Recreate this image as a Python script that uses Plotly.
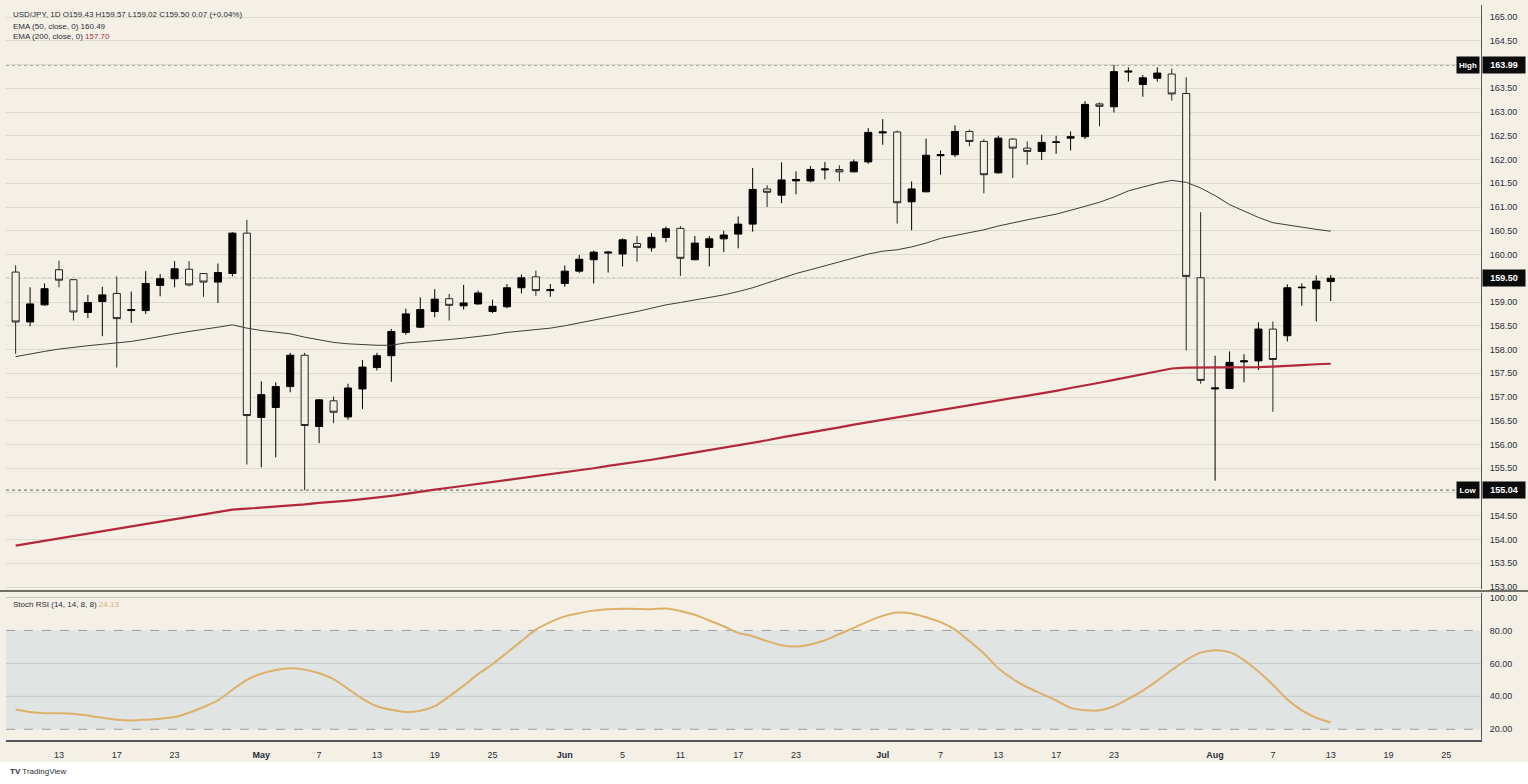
import numpy as np
import pandas as pd
import plotly.graph_objects as go
from plotly.subplots import make_subplots

# daily bars, weekends removed (Apr 8 -> Aug 13)
dates = pd.bdate_range("2026-04-08", "2026-08-13")

opens = [159.63, 158.58, 158.94, 159.68, 159.47, 158.78, 159.01, 159.18, 158.82, 158.82,
         159.35, 159.49, 159.69, 159.60, 159.42, 159.60, 160.45, 156.57, 156.78, 157.22,
         157.88, 156.38, 156.92, 156.58, 157.17, 157.62, 157.87, 158.36, 158.47, 158.80,
         159.07, 158.92, 158.96, 158.80, 158.90, 159.30, 159.53, 159.24, 159.39, 159.65,
         159.89, 160.03, 160.01, 160.23, 160.14, 160.36, 160.55, 159.89, 160.15, 160.33,
         160.43, 160.64, 161.38, 161.25, 161.55, 161.55, 161.78, 161.79, 161.74, 161.95,
         162.56, 162.58, 161.11, 161.32, 162.08, 162.10, 162.59, 162.38, 161.72, 162.43,
         162.24, 162.17, 162.36, 162.45, 162.48, 163.17, 163.11, 163.84, 163.58, 163.71,
         163.80, 163.39, 159.51, 157.17, 157.18, 157.74, 157.76, 158.43, 158.29, 159.30,
         159.28, 159.43]
highs = [159.77, 159.31, 159.39, 159.87, 159.48, 159.15, 159.32, 159.54, 159.22, 159.65,
         159.59, 159.86, 159.86, 159.61, 159.81, 160.47, 160.73, 157.33, 157.31, 157.93,
         157.93, 156.96, 157.01, 157.28, 157.78, 157.93, 158.43, 158.86, 159.10, 159.27,
         159.17, 159.36, 159.24, 159.05, 159.38, 159.58, 159.66, 159.38, 159.77, 159.99,
         160.08, 160.07, 160.34, 160.39, 160.45, 160.59, 160.60, 160.39, 160.39, 160.50,
         160.80, 161.82, 161.46, 161.94, 161.75, 161.86, 161.95, 161.88, 162.00, 162.66,
         162.85, 162.61, 161.54, 162.44, 162.19, 162.72, 162.63, 162.43, 162.50, 162.45,
         162.38, 162.52, 162.50, 162.59, 163.23, 163.20, 163.99, 163.94, 163.78, 163.94,
         163.91, 163.73, 160.89, 157.87, 157.96, 157.90, 158.57, 158.59, 159.37, 159.39,
         159.56, 159.57]
lows = [157.91, 158.49, 158.92, 159.31, 158.61, 158.66, 158.28, 157.62, 158.56, 158.75,
        159.12, 159.31, 159.33, 159.11, 158.98, 159.54, 155.58, 155.52, 155.73, 157.10,
        155.04, 156.03, 156.45, 156.52, 156.75, 157.56, 157.32, 158.31, 158.45, 158.68,
        158.61, 158.84, 158.94, 158.77, 158.87, 159.18, 159.13, 159.11, 159.32, 159.61,
        159.39, 159.62, 159.75, 159.85, 160.06, 160.26, 159.55, 159.88, 159.75, 160.05,
        160.13, 160.48, 161.00, 161.08, 161.27, 161.52, 161.58, 161.54, 161.73, 161.91,
        162.31, 160.65, 160.51, 161.31, 161.68, 162.05, 162.28, 161.29, 161.70, 161.61,
        161.89, 161.99, 162.12, 162.19, 162.43, 162.70, 162.99, 163.64, 163.32, 163.64,
        163.24, 157.98, 157.28, 155.24, 157.17, 157.31, 157.57, 156.69, 158.17, 158.92,
        158.59, 159.02]
closes = [158.58, 158.96, 159.28, 159.46, 158.79, 158.99, 159.15, 158.65, 158.84, 159.39,
          159.49, 159.70, 159.36, 159.42, 159.62, 160.45, 156.61, 157.05, 157.22, 157.88,
          156.40, 156.94, 156.68, 157.19, 157.63, 157.87, 158.38, 158.75, 158.84, 159.06,
          158.93, 158.98, 159.19, 158.91, 159.30, 159.51, 159.24, 159.26, 159.65, 159.90,
          160.05, 160.05, 160.31, 160.15, 160.36, 160.54, 159.92, 160.24, 160.33, 160.41,
          160.64, 161.37, 161.31, 161.57, 161.58, 161.79, 161.80, 161.74, 161.95, 162.57,
          162.58, 161.09, 161.38, 162.09, 162.10, 162.59, 162.38, 161.68, 162.45, 162.24,
          162.17, 162.36, 162.37, 162.48, 163.16, 163.12, 163.85, 163.86, 163.72, 163.82,
          163.38, 159.54, 157.35, 157.19, 157.73, 157.76, 158.43, 157.79, 159.30, 159.31,
          159.44, 159.50]

ema50 = [157.85, 157.91, 157.96, 158.01, 158.05, 158.08, 158.11, 158.14, 158.17, 158.22,
         158.28, 158.33, 158.38, 158.42, 158.47, 158.52, 158.45, 158.40, 158.36, 158.33,
         158.26, 158.20, 158.15, 158.12, 158.10, 158.09, 158.09, 158.14, 158.16, 158.18,
         158.21, 158.24, 158.27, 158.31, 158.36, 158.39, 158.42, 158.45, 158.50, 158.56,
         158.61, 158.67, 158.73, 158.80, 158.87, 158.94, 158.99, 159.04, 159.09, 159.15,
         159.22, 159.30, 159.40, 159.50, 159.60, 159.68, 159.76, 159.84, 159.93, 160.01,
         160.07, 160.10, 160.16, 160.24, 160.34, 160.40, 160.46, 160.52, 160.60, 160.67,
         160.73, 160.79, 160.85, 160.93, 161.01, 161.10, 161.21, 161.34, 161.42, 161.50,
         161.56, 161.52, 161.40, 161.24, 161.05, 160.92, 160.78, 160.67, 160.62, 160.57,
         160.53, 160.49]
ema200 = [153.87, 153.92, 153.97, 154.02, 154.08, 154.13, 154.18, 154.23, 154.28, 154.33,
          154.38, 154.43, 154.48, 154.53, 154.58, 154.63, 154.65, 154.67, 154.69, 154.72,
          154.74, 154.77, 154.79, 154.82, 154.85, 154.88, 154.92, 154.96, 155.01, 155.05,
          155.09, 155.13, 155.17, 155.21, 155.25, 155.29, 155.34, 155.38, 155.42, 155.46,
          155.50, 155.55, 155.59, 155.64, 155.68, 155.73, 155.78, 155.83, 155.88, 155.93,
          155.98, 156.04, 156.09, 156.15, 156.20, 156.25, 156.31, 156.36, 156.42, 156.47,
          156.53, 156.57, 156.62, 156.67, 156.72, 156.77, 156.82, 156.87, 156.92, 156.97,
          157.03, 157.08, 157.13, 157.19, 157.24, 157.30, 157.36, 157.42, 157.48, 157.55,
          157.60, 157.62, 157.62, 157.62, 157.62, 157.62, 157.63, 157.64, 157.65, 157.67,
          157.69, 157.70]
stoch_rsi = [32.0, 30.5, 29.8, 29.8, 29.5, 28.3, 27.0, 25.8, 25.4, 25.8,
             26.4, 27.4, 30.0, 33.5, 37.5, 44.0, 50.0, 53.8, 56.0, 57.0,
             56.2, 54.0, 50.5, 44.5, 38.5, 34.0, 31.8, 30.5, 31.2, 34.0,
             40.0, 46.5, 53.5, 59.5, 66.5, 73.5, 80.5, 85.0, 88.5, 90.5,
             92.0, 92.8, 93.2, 93.0, 92.9, 93.3, 91.8, 89.5, 86.0, 82.5,
             78.5, 76.5, 73.5, 71.0, 70.2, 71.5, 74.0, 77.8, 81.5, 85.5,
             88.8, 90.8, 90.3, 88.0, 85.0, 80.5, 73.5, 66.0, 57.0, 50.5,
             45.5, 41.5, 37.5, 33.0, 31.6, 31.5, 34.0, 38.5, 43.5, 49.5,
             56.0, 62.0, 66.5, 68.0, 66.8, 62.0, 55.0, 47.0, 38.0, 31.5,
             27.0, 24.13]

tick_dates = ["2026-04-13", "2026-04-17", "2026-04-23", "2026-05-01", "2026-05-07",
              "2026-05-13", "2026-05-19", "2026-05-25", "2026-06-01", "2026-06-05",
              "2026-06-11", "2026-06-17", "2026-06-23", "2026-07-01", "2026-07-07",
              "2026-07-13", "2026-07-17", "2026-07-23", "2026-08-03", "2026-08-07",
              "2026-08-13", "2026-08-19", "2026-08-25"]
tick_labels = ["13", "17", "23", "<b>May</b>", "7", "13", "19", "25", "<b>Jun</b>", "5",
               "11", "17", "23", "<b>Jul</b>", "7", "13", "17", "23", "<b>Aug</b>", "7",
               "13", "19", "25"]

price_ticks = [153.0 + 0.5 * i for i in range(25)]
stoch_ticks = [20, 40, 60, 80, 100]

BG = "#F4F0E6"
GRID = "#DDD9CF"
TEXT = "#2A2E39"
AXIS = "#55575F"
RED = "#B2283A"
TAN = "#DDB06A"
FONT = "Liberation Sans"

fig = make_subplots(rows=2, cols=1, shared_xaxes=True, vertical_spacing=0.005)

fig.add_trace(go.Candlestick(
    x=dates, open=opens, high=highs, low=lows, close=closes,
    increasing=dict(line=dict(color="#000000", width=1), fillcolor="#000000"),
    decreasing=dict(line=dict(color="#262626", width=1), fillcolor=BG),
    whiskerwidth=0, hoverinfo="skip", showlegend=False,
), row=1, col=1)

fig.add_trace(go.Scatter(x=dates, y=ema50, mode="lines",
                         line=dict(color="#3C3C3C", width=1),
                         hoverinfo="skip", showlegend=False), row=1, col=1)
fig.add_trace(go.Scatter(x=dates, y=ema200, mode="lines",
                         line=dict(color=RED, width=2.2),
                         hoverinfo="skip", showlegend=False), row=1, col=1)

fig.add_trace(go.Scatter(x=dates, y=stoch_rsi, mode="lines",
                         line=dict(color=TAN, width=2, shape="spline", smoothing=0.8),
                         hoverinfo="skip", showlegend=False), row=2, col=1)

x_range = ["2026-04-07 08:00", "2026-08-27 09:36"]

fig.update_xaxes(
    rangebreaks=[dict(bounds=["sat", "mon"])],
    range=x_range, showgrid=False, zeroline=False,
    rangeslider_visible=False,
    tickmode="array", tickvals=tick_dates, ticktext=tick_labels,
    tickfont=dict(family=FONT, size=9, color=TEXT),
    ticks="outside", ticklen=5, tickcolor="rgba(0,0,0,0)",
)
fig.update_xaxes(showticklabels=False, row=1, col=1)
fig.update_xaxes(showline=True, linecolor=AXIS, linewidth=1.5, row=2, col=1)

fig.update_yaxes(
    domain=[0.2054, 1.0], range=[152.958, 165.2526], side="right",
    tickmode="array", tickvals=price_ticks,
    ticktext=[f"{v:.2f}" for v in price_ticks],
    showgrid=True, gridcolor=GRID, gridwidth=1, zeroline=False,
    showline=True, linecolor=AXIS, linewidth=1,
    ticks="outside", ticklen=6, tickcolor="rgba(0,0,0,0)",
    tickfont=dict(family=FONT, size=9, color=TEXT),
    row=1, col=1,
)
fig.update_yaxes(
    domain=[0.0, 0.2000], range=[13.5, 102.7], side="right",
    tickmode="array", tickvals=stoch_ticks,
    ticktext=[f"{v:.2f}" for v in stoch_ticks],
    showgrid=False, zeroline=False,
    showline=True, linecolor=AXIS, linewidth=1,
    ticks="outside", ticklen=6, tickcolor="rgba(0,0,0,0)",
    tickfont=dict(family=FONT, size=9, color=TEXT),
    row=2, col=1,
)

shapes = []
# stoch band and levels
shapes.append(dict(type="rect", xref="x2 domain", yref="y2", x0=0, x1=1, y0=20, y1=80,
                   fillcolor="#E0E4E2", line=dict(width=0), layer="below"))
for lvl in stoch_ticks:
    dashed = lvl in (20, 80)
    shapes.append(dict(type="line", xref="x2 domain", yref="y2", x0=0, x1=1, y0=lvl, y1=lvl,
                       line=dict(color="#9C9FA0" if dashed else "#C3C8C9", width=1,
                                 dash="dash" if dashed else "solid"),
                       layer="below"))
# high / low / last price dotted lines
hi, lo, last = max(highs), min(lows), closes[-1]
for lvl in (hi, lo, last):
    shapes.append(dict(type="line", xref="x domain", yref="y", x0=0, x1=1, y0=lvl, y1=lvl,
                       line=dict(color="#5E5E5E", width=1, dash="dot"), layer="below"))
# pane separator
shapes.append(dict(type="line", xref="paper", yref="paper", x0=-0.005, x1=1.032,
                   y0=0.2027, y1=0.2027, line=dict(color="#6F6F68", width=2)))
# white strip under the time axis
shapes.append(dict(type="rect", xref="paper", yref="paper", x0=-0.01, x1=1.04,
                   y0=-0.065, y1=-0.0299, fillcolor="#FFFFFF", line=dict(width=0),
                   layer="below"))

chg = closes[-1] - opens[-1]
pct = chg / opens[-1] * 100
annotations = [
    dict(text=f"USD/JPY, 1D O{opens[-1]:.2f} H{highs[-1]:.2f} L{lows[-1]:.2f} "
              f"C{closes[-1]:.2f} {chg:.2f} ({pct:+.2f}%)",
         x=0.0034, y=0.9864),
    dict(text=f"EMA (50, close, 0) {ema50[-1]:.2f}", x=0.0034, y=0.9714),
    dict(text=f"EMA (200, close, 0) <span style='color:{RED}'>{ema200[-1]:.2f}</span>",
         x=0.0034, y=0.9565),
    dict(text=f"Stoch RSI (14, 14, 8, 8) <span style='color:{TAN}'>{stoch_rsi[-1]:.2f}</span>",
         x=0.0034, y=0.185),
    dict(text="<b>TV</b> TradingView", x=0.0014, y=-0.0435),
]
for a in annotations:
    a.update(xref="paper", yref="paper", xanchor="left", yanchor="middle",
             showarrow=False, font=dict(family=FONT, size=8, color=TEXT))

# price tags on the right axis
for lvl in (hi, last, lo):
    annotations.append(dict(text=f"<b>{lvl:.2f}</b>", xref="paper", yref="y", x=1.0, y=lvl,
                            xanchor="left", yanchor="middle", showarrow=False,
                            bgcolor="#0B0B0B", width=40, height=14, xshift=1,
                            font=dict(family=FONT, size=9, color="#FFFFFF")))
for lvl, name in ((hi, "High"), (lo, "Low")):
    annotations.append(dict(text=f"<b>{name}</b>", xref="paper", yref="y", x=1.0, y=lvl,
                            xanchor="right", yanchor="middle", showarrow=False,
                            bgcolor="#0B0B0B", width=20, height=14, xshift=-1,
                            font=dict(family=FONT, size=8, color="#FFFFFF")))

fig.update_layout(
    width=1528, height=784,
    margin=dict(l=6, r=47, t=5, b=44),
    paper_bgcolor=BG, plot_bgcolor=BG,
    shapes=shapes, annotations=annotations,
    showlegend=False, hovermode=False,
    font=dict(family=FONT, size=9, color=TEXT),
)

fig.write_html("out.html", config={"displayModeBar": False},
               post_script="document.body.style.margin='0';document.body.style.overflow='hidden';")
